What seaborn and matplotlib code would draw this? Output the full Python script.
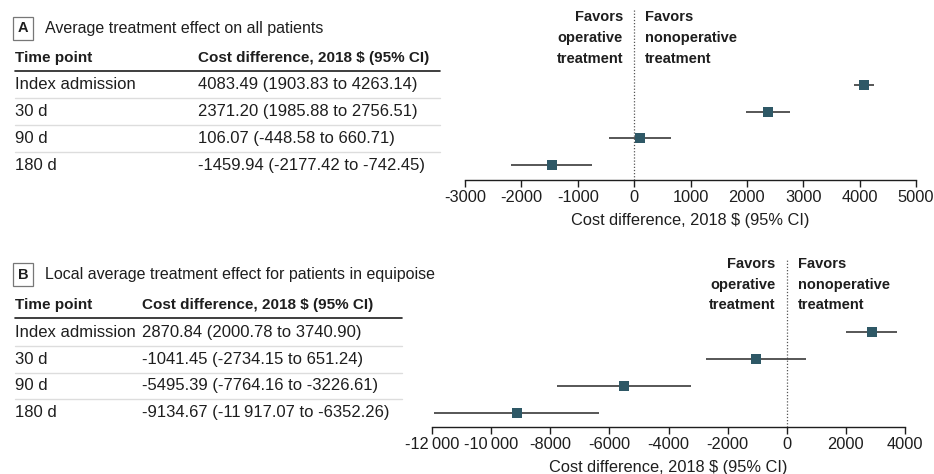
import numpy as np
import pandas as pd
import seaborn as sns
import matplotlib.pyplot as plt
import matplotlib.transforms as mtransforms

time_points = ["Index admission", "30 d", "90 d", "180 d"]

# panel A: average treatment effect on all patients
est_a = [4083.49, 2371.20, 106.07, -1459.94]
lo_a = [3903.83, 1985.88, -448.58, -2177.42]
hi_a = [4263.14, 2756.51, 660.71, -742.45]
ci_text_a = ["4083.49 (1903.83 to 4263.14)", "2371.20 (1985.88 to 2756.51)",
             "106.07 (-448.58 to 660.71)", "-1459.94 (-2177.42 to -742.45)"]
ticks_a = [-3000, -2000, -1000, 0, 1000, 2000, 3000, 4000, 5000]

# panel B: local average treatment effect for patients in equipoise
est_b = [2870.84, -1041.45, -5495.39, -9134.67]
lo_b = [2000.78, -2734.15, -7764.16, -11917.07]
hi_b = [3740.90, 651.24, -3226.61, -6352.26]
ci_text_b = ["2870.84 (2000.78 to 3740.90)", "-1041.45 (-2734.15 to 651.24)",
             "-5495.39 (-7764.16 to -3226.61)", "-9134.67 (-11\u2009917.07 to -6352.26)"]
ticks_b = [-12000, -10000, -8000, -6000, -4000, -2000, 0, 2000, 4000]

sns.set_style("white")
plt.rcParams['font.family'] = ['Liberation Sans', 'DejaVu Sans']
plt.rcParams['font.size'] = 12

TXT = "#1e1e1e"
MARK = "#2e5866"
W, H = 934, 474

fig = plt.figure(figsize=(9.34, 4.74), dpi=100)


def px(x0, y0, x1, y1):
    # pixel box -> figure fraction rect
    return [x0 / W, 1 - y1 / H, (x1 - x0) / W, (y1 - y0) / H]


def tick_fmt(v):
    s = f"{abs(v):d}"
    if len(s) > 4:
        s = s[:-3] + "\u2009" + s[-3:]
    return ("-" if v < 0 else "") + s


def panel(rect, est, lo, hi, ci_text, ticks, ylim, letter, title,
          col_x, line_end):
    ax = fig.add_axes(rect)
    rows = np.arange(len(time_points))
    df = pd.DataFrame({"time": time_points, "est": est, "lo": lo, "hi": hi, "row": rows})

    ax.hlines(df["row"], df["lo"], df["hi"], color="#3a3a3a", lw=1.2, zorder=2)
    sns.scatterplot(data=df, x="est", y="row", marker="s", s=48, color=MARK,
                    edgecolor=MARK, linewidth=0, zorder=3, ax=ax)
    ax.axvline(0, color="#555555", ls=(0, (1, 1.5)), lw=0.9, zorder=1)

    ax.set_xlim(ticks[0], ticks[-1])
    ax.set_ylim(*ylim)
    ax.set_xticks(ticks)
    ax.set_xticklabels([tick_fmt(t) for t in ticks])
    ax.set_yticks([])
    ax.set_ylabel("")
    ax.set_xlabel("Cost difference, 2018 \\$ (95% CI)", color=TXT, fontsize=11.8, labelpad=6)
    for sp in ["top", "left", "right"]:
        ax.spines[sp].set_visible(False)
    ax.spines["bottom"].set_color(TXT)
    ax.spines["bottom"].set_linewidth(1.0)
    ax.tick_params(axis="x", bottom=True, direction="out", length=5, width=1,
                   color=TXT, labelcolor=TXT, labelsize=11.8, pad=2)

    # favors annotation, about 11 px either side of zero
    off = 11 / (rect[2] * W) * (ticks[-1] - ticks[0])
    ax.text(-off, -1.76, "Favors\noperative\ntreatment", fontsize=10.5,
            ha="right", va="center", fontweight="bold", color=TXT, linespacing=1.6)
    ax.text(off, -1.76, "Favors\nnonoperative\ntreatment", fontsize=10.5,
            ha="left", va="center", fontweight="bold", color=TXT, linespacing=1.6)

    # table on the left
    tr = mtransforms.blended_transform_factory(fig.transFigure, ax.transData)
    ax.text(23 / W, -2.12, letter, transform=tr, ha="center", va="center",
            fontweight="bold", color=TXT, fontsize=10.5,
            bbox=dict(boxstyle="square,pad=0.3", fc="white", ec="#777777", lw=0.9))
    ax.text(45 / W, -2.12, title, transform=tr, ha="left", va="center", color=TXT,
            fontsize=11.5)
    ax.text(15 / W, -1.0, "Time point", transform=tr, ha="left", va="center",
            fontweight="bold", color=TXT, fontsize=11)
    ax.text(col_x / W, -1.0, "Cost difference, 2018 \\$ (95% CI)", transform=tr,
            ha="left", va="center", fontweight="bold", color=TXT, fontsize=11)
    ax.plot([15 / W, line_end / W], [-0.52, -0.52], transform=tr, color=TXT,
            lw=1.2, clip_on=False)
    for i, (tp, ct) in enumerate(zip(time_points, ci_text)):
        ax.text(15 / W, i, tp, transform=tr, ha="left", va="center", color=TXT)
        ax.text(col_x / W, i, ct, transform=tr, ha="left", va="center", color=TXT)
        if i < len(time_points) - 1:
            ax.plot([15 / W, line_end / W], [i + 0.5, i + 0.5], transform=tr,
                    color="#dddddd", lw=1.0, clip_on=False)
    return ax


panel(px(465, 10, 916, 180), est_a, lo_a, hi_a, ci_text_a, ticks_a, (3.56, -2.81),
      "A", "Average treatment effect on all patients", 198, 440)
panel(px(432, 260, 905, 427), est_b, lo_b, hi_b, ci_text_b, ticks_b, (3.52, -2.67),
      "B", "Local average treatment effect for patients in equipoise", 142, 402)

fig.savefig("out.png", dpi=100, facecolor="white")
